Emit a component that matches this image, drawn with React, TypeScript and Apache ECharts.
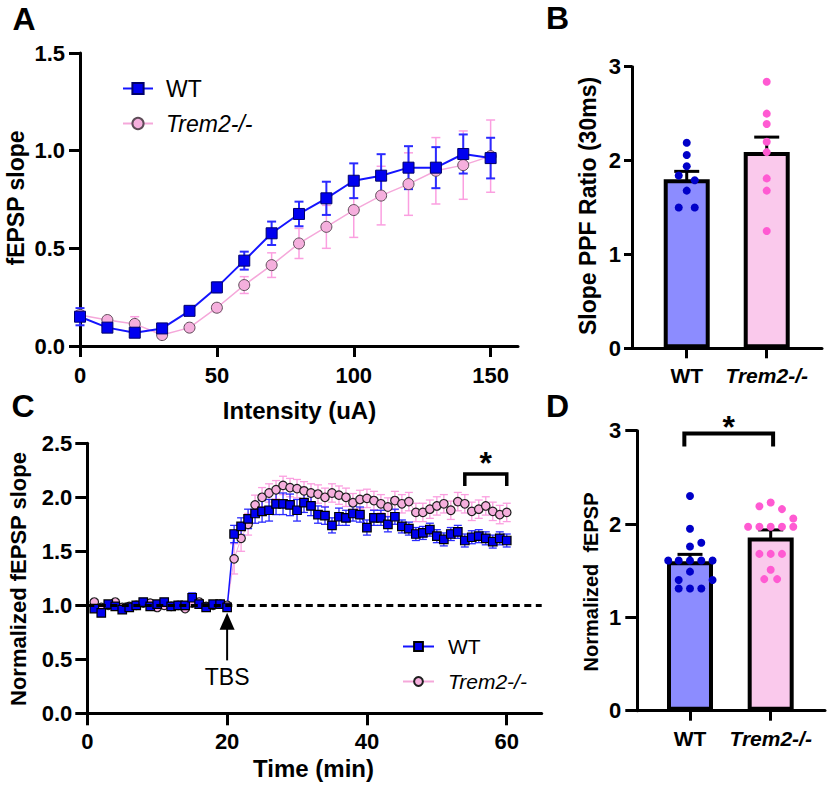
import { useEffect, useRef } from 'react';
import * as echarts from 'echarts';

const FONT = '"Liberation Sans", Arial, Helvetica, sans-serif';

// ---------- Panel A: input/output ----------
const intensityUA = [0, 10, 20, 30, 40, 50, 60, 70, 80, 90, 100, 110, 120, 130, 140, 150];
const wtSlopeA = [0.15, 0.094, 0.068, 0.09, 0.18, 0.3, 0.437, 0.577, 0.676, 0.756, 0.846, 0.872, 0.913, 0.913, 0.983, 0.962];
const wtSlopeAErr = [0.044, 0.02, 0.02, 0.02, 0.02, 0.025, 0.046, 0.06, 0.063, 0.085, 0.089, 0.11, 0.11, 0.105, 0.1, 0.104];
const koSlopeA = [0.159, 0.133, 0.113, 0.056, 0.094, 0.196, 0.312, 0.414, 0.525, 0.61, 0.696, 0.77, 0.829, 0.897, 0.926, 0.972];
const koSlopeAErr = [0.02, 0.015, 0.037, 0.015, 0.015, 0.02, 0.043, 0.063, 0.077, 0.11, 0.14, 0.15, 0.16, 0.17, 0.175, 0.185];
const intensityTicks = [0, 50, 100, 150];

// ---------- Panel B: PPF ratio ----------
const groups = ['WT', 'Trem2-/-'];
const ppfMean = [1.8, 2.09];
const ppfSem = [0.085, 0.16];
const ppfWt = [2.19, 2.06, 1.94, 1.84, 1.79, 1.68, 1.5, 1.5];
const ppfWtJitter = [0, 0, 0, -0.1, 0.1, 0, -0.1, 0.1];
const ppfKo = [2.84, 2.5, 2.39, 2.2, 2.09, 1.81, 1.68, 1.25];
const ppfKoJitter = [0, 0, 0, 0, 0, 0, 0, 0];

// ---------- Panel C: LTP time course ----------
const timeMin = [1, 2, 3, 4, 5, 6, 7, 8, 9, 10, 11, 12, 13, 14, 15, 16, 17, 18, 19, 20,
  21, 22, 23, 24, 25, 26, 27, 28, 29, 30, 31, 32, 33, 34, 35, 36, 37, 38, 39, 40,
  41, 42, 43, 44, 45, 46, 47, 48, 49, 50, 51, 52, 53, 54, 55, 56, 57, 58, 59, 60];
const wtLtp = [0.97, 0.93, 1.01, 0.99, 0.96, 0.98, 1.0, 1.03, 0.99, 1.01, 1.03, 0.99, 1.0, 1.0, 1.07, 1.01, 0.98, 1.01, 1.01, 0.98,
  1.66, 1.73, 1.8, 1.85, 1.87, 1.88, 1.94, 1.94, 1.93, 1.88, 1.95, 1.92, 1.84, 1.83, 1.74, 1.82, 1.81, 1.85, 1.84, 1.72,
  1.81, 1.81, 1.75, 1.82, 1.73, 1.71, 1.66, 1.67, 1.7, 1.64, 1.61, 1.66, 1.68, 1.6, 1.63, 1.64, 1.62, 1.59, 1.62, 1.6];
const wtLtpErr = [0.025, 0.025, 0.02, 0.02, 0.02, 0.02, 0.02, 0.02, 0.02, 0.02, 0.02, 0.02, 0.02, 0.02, 0.045, 0.02, 0.02, 0.02, 0.02, 0.02,
  0.08, 0.08, 0.09, 0.09, 0.1, 0.1, 0.1, 0.1, 0.1, 0.1, 0.09, 0.09, 0.08, 0.08, 0.07, 0.08, 0.07, 0.07, 0.07, 0.07,
  0.07, 0.07, 0.07, 0.07, 0.06, 0.06, 0.06, 0.06, 0.06, 0.06, 0.06, 0.06, 0.06, 0.06, 0.06, 0.06, 0.06, 0.06, 0.06, 0.06];
const koLtp = [1.03, 0.98, 1.0, 1.03, 0.98, 0.99, 1.0, 1.02, 1.02, 0.98, 1.0, 0.99, 1.0, 0.97, 1.02, 1.03, 0.99, 1.0, 1.01, 1.0,
  1.43, 1.62, 1.75, 1.93, 2.0, 2.04, 2.07, 2.11, 2.09, 2.08, 2.06, 2.04, 2.03, 2.0, 2.04, 2.02, 2.0, 1.95, 1.98, 1.99,
  1.97, 1.94, 1.91, 1.97, 1.94, 1.96, 1.86, 1.86, 1.89, 1.92, 1.94, 1.88, 1.96, 1.94, 1.87, 1.89, 1.92, 1.87, 1.84, 1.86];
const koLtpErr = [0.02, 0.02, 0.02, 0.02, 0.02, 0.02, 0.02, 0.02, 0.02, 0.02, 0.02, 0.02, 0.02, 0.02, 0.02, 0.02, 0.02, 0.02, 0.02, 0.02,
  0.14, 0.12, 0.1, 0.09, 0.09, 0.085, 0.085, 0.085, 0.085, 0.085, 0.085, 0.085, 0.085, 0.085, 0.085, 0.085, 0.085, 0.085, 0.085, 0.085,
  0.085, 0.085, 0.085, 0.085, 0.085, 0.085, 0.085, 0.085, 0.085, 0.085, 0.085, 0.085, 0.085, 0.085, 0.085, 0.085, 0.085, 0.085, 0.085, 0.085];
const timeTicks = [0, 20, 40, 60];
const tbsTime = 20;
const tbsArrow = [0.49, 0.93, 0.34]; // tail, tip, label level
const sigWindow = [54, 60];
const sigLevelC = [2.215, 0.11];

// ---------- Panel D: LTP summary ----------
const ltpMean = [1.6, 1.857];
const ltpSem = [0.075, 0.08];
const ltpWt = [2.3, 1.95, 1.8, 1.76, 1.61, 1.61, 1.61, 1.61, 1.61, 1.49, 1.4, 1.4, 1.31, 1.31, 1.31];
const ltpWtJitter = [0, 0, 0.14, 0, -0.27, -0.14, 0, 0.14, 0.28, 0, -0.14, 0.28, -0.14, 0, 0.14];
const ltpKo = [2.23, 2.19, 2.16, 2.06, 1.97, 1.97, 1.97, 1.97, 1.97, 1.68, 1.68, 1.68, 1.51, 1.41, 1.41];
const ltpKoJitter = [0, -0.14, 0.14, 0.28, -0.28, -0.14, 0, 0.14, 0.28, -0.14, 0, 0.14, 0, -0.08, 0.08];
const sigPairD = [-0.07, 1.03];
const sigLevelD = [2.97, 0.14];

// ---------- colours ----------
const BLUE_LINE = '#1414ff';
const BLUE_FILL = '#0000f0';
const BLUE_ERR = '#2a2aff';
const PINK_LINE = '#f5a8da';
const PINK_FILL = '#f5afdd';
const PINK_ERR = '#fb9fe0';
const WT_BAR = '#8c8cff';
const KO_BAR = '#fac9ec';
const WT_DOT = '#0000c8';
const KO_DOT = '#ff5ad2';

const errRender = (color: string, half: number, lw: number) => (_p: any, api: any) => {
  const x = api.value(0);
  const y = api.value(1);
  const e = api.value(2);
  const t = api.coord([x, y + e]);
  const b = api.coord([x, y - e]);
  const st = () => ({ stroke: color, lineWidth: lw });
  return {
    type: 'group',
    children: [
      { type: 'line', shape: { x1: t[0], y1: t[1], x2: b[0], y2: b[1] }, style: st() },
      { type: 'line', shape: { x1: t[0] - half, y1: t[1], x2: t[0] + half, y2: t[1] }, style: st() },
      { type: 'line', shape: { x1: b[0] - half, y1: b[1], x2: b[0] + half, y2: b[1] }, style: st() },
    ],
  };
};

const errSeries = (idx: number, xs: number[], ys: number[], es: number[], color: string, half: number, lw: number) => ({
  type: 'custom',
  xAxisIndex: idx,
  yAxisIndex: idx,
  silent: true,
  clip: false,
  renderItem: errRender(color, half, lw),
  encode: { x: 0, y: 1 },
  data: xs.map((x, i) => [x, ys[i], es[i]]),
});

const bracketRender = (lw: number, starOffset: number) => (_p: any, api: any) => {
  const x1 = api.value(0);
  const x2 = api.value(1);
  const y = api.value(2);
  const leg = api.value(3);
  const a = api.coord([x1, y]);
  const b = api.coord([x2, y]);
  const a2 = api.coord([x1, y - leg]);
  const b2 = api.coord([x2, y - leg]);
  const st = () => ({ stroke: '#000', lineWidth: lw });
  return {
    type: 'group',
    children: [
      { type: 'polyline', shape: { points: [a2, a, b, b2] }, style: { ...st(), fill: 'none' } },
      {
        type: 'text',
        x: (a[0] + b[0]) / 2,
        y: a[1] - starOffset,
        style: { text: '*', fontSize: 32, fontWeight: 'bold', fontFamily: FONT, fill: '#000', align: 'center', verticalAlign: 'middle' },
      },
    ],
  };
};

const yAxisBase = (idx: number, max: number, interval: number, tickLen: number, margin: number, dec: number) => ({
  type: 'value',
  gridIndex: idx,
  min: 0,
  max,
  interval,
  axisLine: { show: true, onZero: false, lineStyle: { color: '#000', width: 3 } },
  axisTick: { show: true, length: tickLen, lineStyle: { color: '#000', width: 3 } },
  axisLabel: {
    color: '#000', fontWeight: 'bold', fontSize: 22, fontFamily: FONT, margin,
    formatter: (v: number) => v.toFixed(dec),
  },
  splitLine: { show: false },
});

const xValueAxis = (idx: number, min: number, max: number, ticks: number[], tickLen: number, margin: number) => ({
  type: 'value',
  gridIndex: idx,
  min,
  max,
  axisLine: { show: true, onZero: false, lineStyle: { color: '#000', width: 3 } },
  axisTick: { show: true, length: tickLen, customValues: ticks, lineStyle: { color: '#000', width: 3 } },
  axisLabel: {
    color: '#000', fontWeight: 'bold', fontSize: 22, fontFamily: FONT, margin,
    customValues: ticks,
    formatter: (v: number) => String(v),
  },
  splitLine: { show: false },
});

const xGroupAxis = (idx: number, min: number, max: number) => ({
  type: 'value',
  gridIndex: idx,
  min,
  max,
  axisLine: { show: true, onZero: false, lineStyle: { color: '#000', width: 3 } },
  axisTick: { show: true, length: 10, customValues: [0, 1], lineStyle: { color: '#000', width: 3 } },
  axisLabel: {
    margin: 17,
    customValues: [0, 1],
    formatter: (v: number) => (Math.round(v) === 0 ? '{n|' + groups[0] + '}' : '{i|' + groups[1] + '}'),
    rich: {
      n: { fontSize: 21, fontWeight: 'bold', fontFamily: FONT, color: '#000' },
      i: { fontSize: 21, fontWeight: 'bold', fontStyle: 'italic', fontFamily: FONT, color: '#000' },
    },
  },
  splitLine: { show: false },
});

const txt = (text: string, x: number, y: number, size: number, opts: any = {}) => ({
  type: 'text',
  x,
  y,
  rotation: opts.rotate ? Math.PI / 2 : 0,
  style: {
    text,
    fontSize: size,
    fontWeight: opts.normal ? 'normal' : 'bold',
    fontFamily: FONT,
    fill: '#000',
    align: 'center',
    verticalAlign: 'middle',
  },
});

const legendFmt = (name: string) => (name.startsWith('wt') ? '{n|WT}' : '{i|Trem2-/-}');

export default function App() {
  const ref = useRef<HTMLDivElement>(null);
  useEffect(() => {
    if (!ref.current) return;
    const chart = echarts.init(ref.current, null, { renderer: 'svg' });
    const option: any = {
      animation: false,
      backgroundColor: '#fff',
      grid: [
        { left: 80, top: 53, width: 438, height: 293 },
        { left: 632, top: 66.7, width: 190, height: 281.6 },
        { left: 87.3, top: 443.3, width: 454.4, height: 270 },
        { left: 637.3, top: 430.7, width: 187.7, height: 280 },
      ],
      xAxis: [
        xValueAxis(0, 0, 160, intensityTicks, 11, 18),
        xGroupAxis(1, -0.684, 1.691),
        xValueAxis(2, 0, 65, timeTicks, 12, 17),
        xGroupAxis(3, -0.653, 1.673),
      ],
      yAxis: [
        yAxisBase(0, 1.5, 0.5, 11, 15, 1),
        yAxisBase(1, 3, 1, 8, 11, 0),
        yAxisBase(2, 2.5, 0.5, 12, 15, 1),
        yAxisBase(3, 3, 1, 12, 16, 0),
      ],
      legend: [
        {
          data: ['wt-A', 'ko-A'],
          orient: 'vertical',
          left: 117,
          top: 72,
          itemWidth: 30,
          itemHeight: 14,
          itemGap: 12,
          selectedMode: false,
          formatter: legendFmt,
          textStyle: {
            rich: {
              n: { fontSize: 23, fontFamily: FONT, color: '#000', padding: [0, 0, 0, 8] },
              i: { fontSize: 23, fontFamily: FONT, color: '#000', fontStyle: 'italic', padding: [0, 0, 0, 8] },
            },
          },
        },
        {
          data: ['wt-C', 'ko-C'],
          orient: 'vertical',
          left: 397,
          top: 631,
          itemWidth: 31,
          itemHeight: 11,
          itemGap: 14,
          selectedMode: false,
          formatter: legendFmt,
          textStyle: {
            rich: {
              n: { fontSize: 21, fontFamily: FONT, color: '#000', padding: [0, 0, 0, 9] },
              i: { fontSize: 21, fontFamily: FONT, color: '#000', fontStyle: 'italic', padding: [0, 0, 0, 9] },
            },
          },
        },
      ],
      graphic: [
        txt('A', 24, 18.5, 32),
        txt('B', 557.5, 17.5, 32),
        txt('C', 23, 405.5, 32),
        txt('D', 557.5, 405.5, 32),
        txt('fEPSP slope', 16, 198, 23, { rotate: true }),
        txt('Intensity (uA)', 299.5, 410, 24),
        txt('Slope PPF Ratio (30ms)', 588, 206, 23, { rotate: true }),
        txt('Normalized fEPSP slope', 18, 579, 22, { rotate: true }),
        txt('Time (min)', 313.5, 768, 24),
        txt('Normalized  fEPSP', 591, 582, 20, { rotate: true }),
      ],
      series: [
        // ---- A ----
        errSeries(0, intensityUA, koSlopeA, koSlopeAErr, PINK_ERR, 4.5, 1.5),
        {
          name: 'ko-A', type: 'line', xAxisIndex: 0, yAxisIndex: 0,
          data: intensityUA.map((x, i) => [x, koSlopeA[i]]),
          symbol: 'circle', symbolSize: 11, showAllSymbol: true,
          lineStyle: { color: PINK_LINE, width: 1.5 },
          itemStyle: { color: PINK_FILL, borderColor: '#5e4c58', borderWidth: 1 },
        },
        errSeries(0, intensityUA, wtSlopeA, wtSlopeAErr, BLUE_ERR, 4.5, 2),
        {
          name: 'wt-A', type: 'line', xAxisIndex: 0, yAxisIndex: 0,
          data: intensityUA.map((x, i) => [x, wtSlopeA[i]]),
          symbol: 'rect', symbolSize: 11, showAllSymbol: true,
          lineStyle: { color: BLUE_LINE, width: 2 },
          itemStyle: { color: BLUE_FILL, borderColor: '#00006a', borderWidth: 1 },
        },
        // ---- B ----
        {
          type: 'bar', xAxisIndex: 1, yAxisIndex: 1, barWidth: 46,
          itemStyle: { borderColor: '#000', borderWidth: 4 },
          data: groups.map((_g, i) => ({ value: [i, ppfMean[i]], itemStyle: { color: i === 0 ? WT_BAR : KO_BAR } })),
        },
        {
          type: 'scatter', xAxisIndex: 1, yAxisIndex: 1, symbolSize: 8,
          itemStyle: { color: WT_DOT, opacity: 1 },
          data: ppfWt.map((v, i) => [ppfWtJitter[i], v]),
        },
        {
          type: 'scatter', xAxisIndex: 1, yAxisIndex: 1, symbolSize: 8,
          itemStyle: { color: KO_DOT, opacity: 1 },
          data: ppfKo.map((v, i) => [1 + ppfKoJitter[i], v]),
        },
        errSeries(1, [0, 1], ppfMean, ppfSem, '#000', 12.5, 3),
        // ---- C ----
        {
          type: 'line', xAxisIndex: 2, yAxisIndex: 2, data: [],
          markLine: {
            silent: true, symbol: ['none', 'none'], label: { show: false },
            lineStyle: { color: '#000', width: 3, type: [7, 4.5] },
            data: [{ yAxis: 1 }],
          },
        },
        errSeries(2, timeMin, koLtp, koLtpErr, PINK_ERR, 4, 1.3),
        {
          name: 'ko-C', type: 'line', xAxisIndex: 2, yAxisIndex: 2,
          data: timeMin.map((x, i) => [x, koLtp[i]]),
          symbol: 'circle', symbolSize: 8.5, showAllSymbol: true,
          lineStyle: { color: PINK_LINE, width: 1 },
          itemStyle: { color: PINK_FILL, borderColor: '#1e1e1e', borderWidth: 1.2 },
        },
        errSeries(2, timeMin, wtLtp, wtLtpErr, BLUE_ERR, 4, 1.3),
        {
          name: 'wt-C', type: 'line', xAxisIndex: 2, yAxisIndex: 2,
          data: timeMin.map((x, i) => [x, wtLtp[i]]),
          symbol: 'rect', symbolSize: 8.5, showAllSymbol: true,
          lineStyle: { color: BLUE_LINE, width: 1.5 },
          itemStyle: { color: BLUE_FILL, borderColor: '#000', borderWidth: 1.2 },
        },
        {
          type: 'custom', xAxisIndex: 2, yAxisIndex: 2, silent: true, clip: false,
          encode: { x: 0, y: 1 },
          data: [[tbsTime, tbsArrow[0], tbsArrow[1], tbsArrow[2]]],
          renderItem: (_p: any, api: any) => {
            const base = api.coord([api.value(0), api.value(1)]);
            const tip = api.coord([api.value(0), api.value(2)]);
            const lab = api.coord([api.value(0), api.value(3)]);
            return {
              type: 'group',
              children: [
                { type: 'line', shape: { x1: base[0], y1: base[1], x2: tip[0], y2: tip[1] + 14 }, style: { stroke: '#000', lineWidth: 2 } },
                { type: 'polygon', shape: { points: [[tip[0], tip[1]], [tip[0] - 7.5, tip[1] + 17], [tip[0] + 7.5, tip[1] + 17]] }, style: { fill: '#000' } },
                { type: 'text', x: lab[0], y: lab[1], style: { text: 'TBS', fontSize: 23, fontFamily: FONT, fill: '#000', align: 'center', verticalAlign: 'middle' } },
              ],
            };
          },
        },
        {
          type: 'custom', xAxisIndex: 2, yAxisIndex: 2, silent: true, clip: false,
          encode: { x: 0, y: 2 },
          data: [[sigWindow[0], sigWindow[1], sigLevelC[0], sigLevelC[1]]],
          renderItem: bracketRender(3.5, 11),
        },
        // ---- D ----
        {
          type: 'bar', xAxisIndex: 3, yAxisIndex: 3, barWidth: 46,
          itemStyle: { borderColor: '#000', borderWidth: 4 },
          data: groups.map((_g, i) => ({ value: [i, ltpMean[i]], itemStyle: { color: i === 0 ? WT_BAR : KO_BAR } })),
        },
        {
          type: 'scatter', xAxisIndex: 3, yAxisIndex: 3, symbolSize: 8,
          itemStyle: { color: WT_DOT, opacity: 1 },
          data: ltpWt.map((v, i) => [ltpWtJitter[i], v]),
        },
        {
          type: 'scatter', xAxisIndex: 3, yAxisIndex: 3, symbolSize: 8,
          itemStyle: { color: KO_DOT, opacity: 1 },
          data: ltpKo.map((v, i) => [1 + ltpKoJitter[i], v]),
        },
        errSeries(3, [0, 1], ltpMean, ltpSem, '#000', 12.5, 3),
        {
          type: 'custom', xAxisIndex: 3, yAxisIndex: 3, silent: true, clip: false,
          encode: { x: 0, y: 2 },
          data: [[sigPairD[0], sigPairD[1], sigLevelD[0], sigLevelD[1]]],
          renderItem: bracketRender(4, 7),
        },
      ],
    };
    chart.setOption(option);
    return () => chart.dispose();
  }, []);
  return <div ref={ref} style={{ position: 'absolute', left: 0, top: 0, width: 828, height: 788, background: '#fff' }} />;
}
